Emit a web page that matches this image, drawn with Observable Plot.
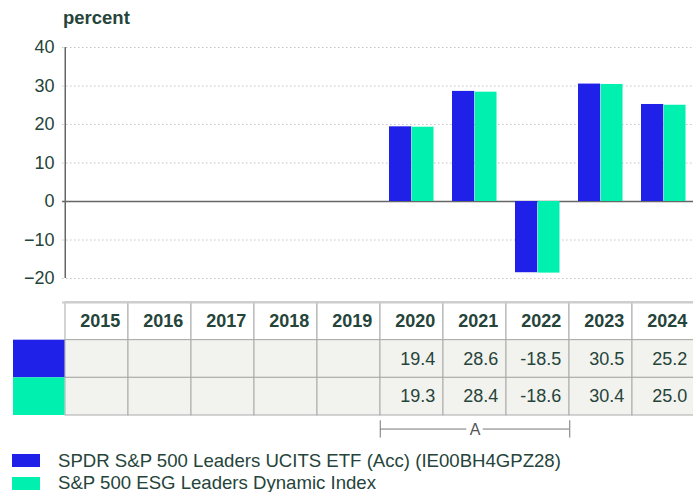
<!DOCTYPE html>
<html><head><meta charset="utf-8">
<script src="https://cdn.jsdelivr.net/npm/d3@7"></script>
<script src="https://cdn.jsdelivr.net/npm/@observablehq/plot@0.6"></script>
<style>
html,body{margin:0;padding:0;background:#fff;overflow:hidden;}
body{font-family:"Liberation Sans",Arial,sans-serif;}
#wrap{position:relative;width:693px;height:492px;overflow:hidden;}
#unit{position:absolute;left:63px;top:7px;font-weight:bold;font-size:18.5px;color:#25443a;}
#chart{position:absolute;left:0;top:0;width:697px;}
#table{position:absolute;left:0;top:290px;width:697px;}
#legend{position:absolute;left:12px;top:449.5px;font-size:18.6px;line-height:22.7px;color:#25443a;}
.item{display:flex;align-items:flex-start;height:22.7px;white-space:nowrap;}
.sw{width:28px;height:13.3px;margin-top:4.6px;margin-right:18px;flex:none;}
svg{max-width:none !important;}
</style></head><body>
<div id="wrap">
  <div id="chart"></div>
  <div id="unit">percent</div>
  <div id="table"></div>
  <div id="legend"></div>
</div>
<script>
const years = ["2015","2016","2017","2018","2019","2020","2021","2022","2023","2024"];
const seriesNames = ["SPDR S&P 500 Leaders UCITS ETF (Acc) (IE00BH4GPZ28)", "S&P 500 ESG Leaders Dynamic Index"];
const fundValues = [null,null,null,null,null,19.4,28.6,-18.5,30.5,25.2];
const indexValues = [null,null,null,null,null,19.3,28.4,-18.6,30.4,25.0];
const yTicks = [-20,-10,0,10,20,30,40];
const colors = ["#1f20e8","#00f0b0"];
const bracketYears = ["2020","2021","2022"];
const bracketLabel = "A";

const textColor = "#25443a";
const fund = years.map((y,i)=>({year:y, value:fundValues[i]})).filter(d=>d.value!=null);
const index = years.map((y,i)=>({year:y, value:indexValues[i]})).filter(d=>d.value!=null);

const W = 697, ML = 62, BW = (W-ML)/years.length, HB = BW/2;
const font = {fontFamily:'"Liberation Sans",Arial,sans-serif', fontSize:"18px", overflow:"visible", background:"transparent", maxWidth:"none"};

const chart = Plot.plot({
  width: W, height: 300,
  marginLeft: ML, marginRight: 0, marginTop: 47, marginBottom: 22,
  style: font,
  x: {domain: years, padding: 0, axis: null},
  y: {domain: [-20, 40], axis: null},
  marks: [
    Plot.ruleY(yTicks.filter(d=>d!==0), {stroke:"#c4c4c4", strokeDasharray:"1.5,2.5"}),
    Plot.ruleY([0], {stroke:"#666", strokeWidth:1.5}),
    Plot.barY(fund, {x:"year", y:"value", fill:colors[0], insetLeft:9, insetRight:HB}),
    Plot.barY(index, {x:"year", y:"value", fill:colors[1], insetLeft:HB, insetRight:9.5}),
    Plot.ruleX([years[0]], {dx:-HB, y1:-20, y2:40, stroke:"#666", strokeWidth:1.5}),
    Plot.axisY(yTicks, {tickSize:0, tickPadding:8, fontSize:18, color:textColor, label:null})
  ]
});
document.getElementById("chart").appendChild(chart);

const bY = 3.36;
const first = bracketYears[0], mid = bracketYears[1], last = bracketYears[bracketYears.length-1];
const table = Plot.plot({
  width: W, height: 160,
  marginLeft: ML, marginRight: 0, marginTop: 0, marginBottom: 0,
  style: font,
  x: {domain: years, padding: 0, axis: null},
  y: {domain: [0, 3], range: [12, 125], axis: null},
  marks: [
    Plot.barY(years, {x:d=>d, y1:0, y2:1, fill:"white", stroke:"#aaa"}),
    Plot.barY(years, {x:d=>d, y1:1, y2:2, fill:"#f2f2ee", stroke:"#aaa"}),
    Plot.barY(years, {x:d=>d, y1:2, y2:3, fill:"#f2f2ee", stroke:"#aaa"}),
    Plot.ruleY([0], {stroke:"#ccc", strokeWidth:2}),
    Plot.barY([years[0]], {x:d=>d, y1:1, y2:2, fill:colors[0], dx:-BW, insetLeft:BW-52}),
    Plot.barY([years[0]], {x:d=>d, y1:2, y2:3, fill:colors[1], dx:-BW, insetLeft:BW-52}),
    Plot.text(years, {x:d=>d, y:0.5, text:d=>d, textAnchor:"end", dx:HB-8.5, fontWeight:"bold", fontSize:18, fill:textColor}),
    Plot.text(fund, {x:"year", y:1.5, text:d=>d.value.toFixed(1), textAnchor:"end", dx:HB-8.5, fontSize:18, fill:textColor}),
    Plot.text(index, {x:"year", y:2.5, text:d=>d.value.toFixed(1), textAnchor:"end", dx:HB-8.5, fontSize:18, fill:textColor}),
    Plot.ruleY([bY], {x1:()=>first, x2:()=>mid, insetRight:HB+8, stroke:"#777"}),
    Plot.ruleY([bY], {x1:()=>mid, x2:()=>last, insetLeft:HB+8, stroke:"#777"}),
    Plot.ruleX([first], {dx:-HB, y1:3.14, y2:3.6, stroke:"#777"}),
    Plot.ruleX([last], {dx:HB, y1:3.14, y2:3.6, stroke:"#777"}),
    Plot.text([bracketLabel], {x:()=>mid, y:bY, dy:1, text:d=>d, fontSize:16, fill:"#555"})
  ]
});
document.getElementById("table").appendChild(table);

const legend = document.getElementById("legend");
seriesNames.forEach((name,i)=>{
  const it = document.createElement("div"); it.className="item";
  const sw = document.createElement("div"); sw.className="sw"; sw.style.background=colors[i];
  const tx = document.createElement("span"); tx.textContent=name;
  it.appendChild(sw); it.appendChild(tx); legend.appendChild(it);
});
</script>
</body></html>
